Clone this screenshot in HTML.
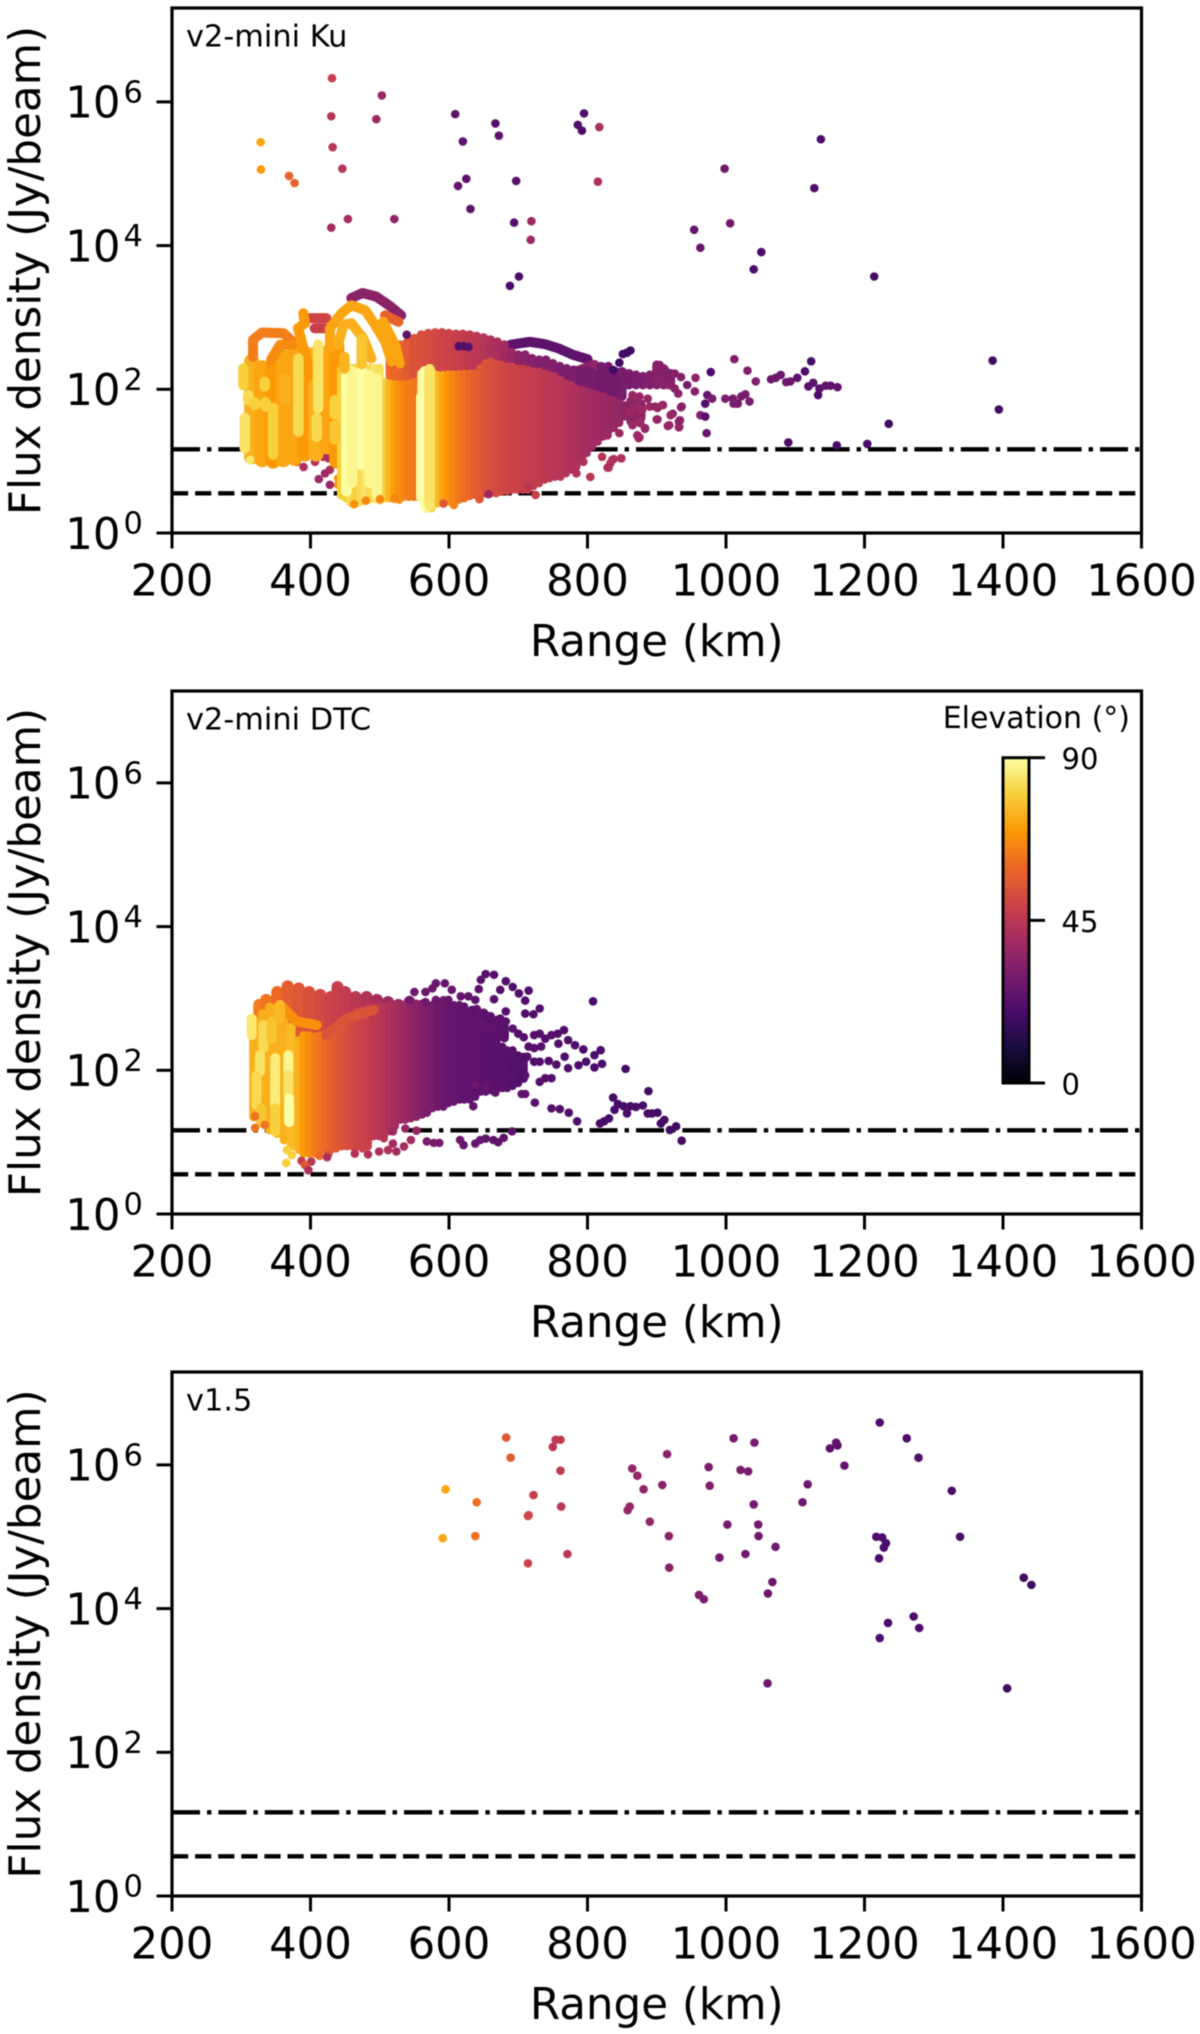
<!DOCTYPE html>
<html lang="en">
<head>
<meta charset="utf-8">
<title>Flux density vs range</title>
<style>
html,body{margin:0;padding:0;background:#fff;width:1200px;height:2034px;overflow:hidden}
svg{display:block;filter:blur(0.45px)}
text{font-family:"DejaVu Sans","Liberation Sans",sans-serif;fill:#000}
</style>
</head>
<body>
<svg id="figure" xmlns="http://www.w3.org/2000/svg" width="1200" height="2034" viewBox="0 0 1200 2034"></svg>
<script>
/* ---------- axis ticks and thresholds ---------- */
const xTickValues = [200,400,600,800,1000,1200,1400,1600];
const yTickExponents = [0,2,4,6];
const thresholdFlux = [14.6, 3.57];
const colorbarTicks = [0,45,90];
const infernoStops = ["#000004","#1b0c42","#4b0c6b","#781c6d","#a52c60","#cf4446","#ed6925","#fb9a06","#f7d03c","#fcffa4"];

/* ---------- v2-mini Ku: dense bands (range km, log10 flux high/low, elevation deg) ---------- */
const kuLeftRange = [315,330,346,361,377,392,408,423,438];
const kuLeftHigh  = [2.39,2.30,2.35,2.45,2.50,2.50,2.50,2.50,2.60];
const kuLeftLow   = [1.06,1.02,1.00,1.02,1.04,1.10,1.10,1.20,1.00];
const kuLeftElev  = [74,72,70,72,72,70,74,72,70];

const kuMidRange = [515,522,530,540,550,560,570,580,590,600,610,620,630,640,650,660,670,680,690,700,710,720,730,740,750,760,770,780,790,800,810,820,830,840,850,860,870,880,890,900,910,920];
const kuMidHigh  = [2.40,2.50,2.62,2.66,2.71,2.76,2.78,2.79,2.79,2.78,2.77,2.77,2.76,2.74,2.72,2.69,2.66,2.62,2.52,2.48,2.48,2.43,2.41,2.41,2.36,2.32,2.29,2.27,2.25,2.27,2.22,2.32,2.32,2.25,2.25,2.22,2.20,2.18,2.20,2.34,2.29,2.22];
const kuMidLow   = [1.9,1.9,1.9,1.9,1.9,1.9,1.9,1.9,1.9,1.9,1.9,1.9,1.9,1.9,1.9,1.9,1.9,1.9,1.9,1.9,1.9,1.9,1.9,1.9,1.9,1.9,1.9,1.9,1.9,1.9,1.9,1.9,1.9,1.9,1.9,2.06,2.06,2.06,2.06,2.06,2.06,2.06];
const kuMidElev  = [60,59,58,56,54,53,52,51,50,49,48,47,46,45,44,42,41,39,37,35,34,33,32,32,32,31,31,31,30,30,30,29,29,29,30,30,31,31,32,33,33,32];

const kuSecondRange = [444,451,458,465,472,479,486,493,500,507,514,521,528,535,542,549,556];
const kuSecondHigh  = [2.27,2.27,2.30,2.30,2.30,2.30,2.30,2.30,2.30,2.10,2.08,2.07,2.07,2.07,2.08,2.10,2.12];
const kuSecondLow   = [0.52,0.48,0.42,0.42,0.43,0.45,0.47,0.47,0.45,0.48,0.48,0.47,0.46,0.50,0.50,0.50,0.50];
const kuSecondElev  = [80,80,82,80,82,84,82,84,83,80,75,71,68,66,64,63,62];

const kuMainRange = [560,567,575,583,591,599,606,614,622,630,637,645,653,660,668,676,684,691,699,707,714,722,730,738,745,753,761,769,776,784,792,799,807,815,823,830,838,846,854,862,870,878];
const kuMainHigh  = [2.22,2.25,2.25,2.20,2.20,2.21,2.21,2.21,2.22,2.22,2.22,2.29,2.36,2.39,2.36,2.34,2.32,2.32,2.29,2.29,2.27,2.25,2.25,2.22,2.20,2.18,2.13,2.08,2.06,2.01,1.99,1.97,1.94,1.92,1.90,1.87,1.85,1.81,1.78,1.84,1.84,1.80];
const kuMainLow   = [0.48,0.34,0.34,0.41,0.46,0.44,0.41,0.46,0.48,0.51,0.53,0.51,0.55,0.55,0.55,0.58,0.58,0.60,0.60,0.60,0.60,0.65,0.69,0.74,0.76,0.78,0.78,0.83,0.88,0.92,1.02,1.11,1.20,1.27,1.34,1.41,1.46,1.53,1.62,1.55,1.60,1.60];
const kuMainElev  = [88,88,82,76,72,69,66,63,61,59,57,56,54,53,52,51,50,49,49,48,47.5,47,46.5,46,45,44.5,44,43,42.5,42,41,40,39.5,39,38,37.5,37,36,35,35,35,35];

const kuBrightRange = [303,310,305,334,320,335,346,363,382.5,411,409,435,435,452,460,474,485,496,449,474,565,560,572];
const kuBrightHigh  = [2.29,1.92,1.60,2.10,1.82,1.82,1.74,2.15,2.43,2.62,1.60,1.85,1.50,2.29,2.25,2.25,2.20,2.15,2.45,2.70,2.25,1.90,2.28];
const kuBrightLow   = [2.06,1.85,1.18,2.04,1.78,1.76,1.09,1.85,1.41,1.74,1.34,1.65,1.30,0.58,0.70,0.95,0.70,0.55,2.29,2.35,0.40,0.50,0.38];
const kuBrightElev  = [80,82,84,80,80,80,80,74,82,84,82,80,78,90,88,90,88,88,75,78,90,90,84];

/* ---------- v2-mini Ku: arcs traced by satellite passes ---------- */
const kuArcARange = [317,317,330,361,377];
const kuArcALog   = [2.45,2.69,2.79,2.78,2.64];
const kuArcAElev  = 64;
const kuArcBRange = [343,356,377];
const kuArcBLog   = [2.41,2.62,2.62];
const kuArcBElev  = 67;
const kuArcCRange = [389.5,392,382,392,402.5];
const kuArcCLog   = [3.06,2.92,2.85,2.50,2.18];
const kuArcCElev  = 70;
const kuArcPurpleRange = [459,475,495,516,531];
const kuArcPurpleLog   = [3.27,3.34,3.29,3.15,3.03];
const kuArcPurpleElev  = 34;
const kuArcRedRange = [399,423];
const kuArcRedLog   = [2.99,2.99];
const kuArcRedElev  = 50;
const kuArcRed2Range = [406,421];
const kuArcRed2Log   = [2.85,2.85];
const kuArcRed2Elev  = 48;
const kuArcOrangeRange = [507.6,527];
const kuArcOrangeLog   = [3.03,2.94];
const kuArcOrangeElev  = 58;
const kuArcDRange = [428,428,445,459,479,493,508,517];
const kuArcDLog   = [2.57,2.85,3.06,3.17,3.10,2.90,2.66,2.39];
const kuArcDElev  = 72;
const kuArcERange = [440,447.5,459,476,488];
const kuArcELog   = [2.62,2.90,2.92,2.71,2.43];
const kuArcEElev  = 74;
const kuArcFRange = [500,505,522,529];
const kuArcFLog   = [2.85,2.94,2.62,2.36];
const kuArcFElev  = 72;
const kuArcDarkRange = [689,702,717,738,758,779,800];
const kuArcDarkLog   = [2.62,2.64,2.66,2.63,2.57,2.48,2.42];
const kuArcDarkElev  = 24;
const kuArcMidRange = [784,810];
const kuArcMidLog   = [2.25,2.34];
const kuArcMidElev  = 35;

/* ---------- v2-mini Ku: points sitting behind the bright columns ---------- */
const kuBackDotRange = [390,380,406.5,418.5,430.6,399,428,412,428,421,411,426,339,351,368,440,440];
const kuBackDotLog   = [0.92,0.99,0.99,1.06,1.18,1.18,0.88,0.75,0.67,0.83,1.09,1.04,1.02,1.02,1.04,0.76,0.67];
const kuBackDotElev  = [42,44,44,42,46,46,42,38,38,38,42,42,66,66,66,68,68];

/* ---------- v2-mini Ku: individual points ---------- */
const kuDotRange = [431,430,432,446,503,495,609,620,667,672,786,795,792,817,815,328,328.5,369,377,430,454,521,625,613,631,697,694,719,718,688,701,1137,1127.5,998,1006,954,963,1051,1040,1214,
1385,1394,1235,1204,1160,1090,1123,1114,1103,1079,1072,1065,1093,1087,1043,1031,1012,1126,1119,1133,1135,1144,1151,1161,978,956,944,955,973,980,970,999,1010,1011,1017,1022,1028,1034,935,963,970,972,932,932,916,901,883,872,875,849,838,833,829,821,862,857,851,846,837,
463,480,500.4,521,571,592,607,644,657,725,714,804,784,848.5,836,830.4,794,874,883,872,876,918,932.5,933.5,900,923,908,898,936,
865,875,887,909,920,890,873,862,879,901,876,865,846,829,904,912,926,935,906,917,931,926,539,614,621,628,313];
const kuDotLog = [6.33,5.80,5.37,5.07,6.09,5.76,5.83,5.45,5.70,5.53,5.68,5.84,5.60,5.65,4.89,5.44,5.06,4.97,4.87,4.25,4.37,4.37,4.93,4.83,4.51,4.90,4.32,4.34,4.08,3.44,3.57,5.48,4.80,5.07,4.31,4.22,3.97,3.91,3.67,3.57,
2.40,1.72,1.52,1.24,1.22,1.26,2.39,2.25,2.16,2.20,2.16,2.14,2.11,2.10,2.11,2.26,2.42,2.09,2.04,1.92,2.01,2.05,2.05,2.03,2.24,2.16,2.06,1.97,1.92,1.87,1.80,1.87,1.87,1.80,1.80,1.90,1.93,1.83,1.75,1.64,1.62,1.39,1.55,1.47,1.49,1.58,1.45,1.36,1.33,1.04,1.03,0.97,0.91,1.06,2.54,2.51,2.49,2.37,2.27,
0.40,0.45,0.47,0.48,0.37,0.41,0.39,0.47,0.54,0.53,0.65,0.78,0.83,1.04,1.02,0.91,0.99,1.32,1.46,1.36,1.53,1.50,1.48,1.57,1.58,1.66,1.78,1.76,1.76,
1.92,1.90,1.87,1.78,1.64,1.76,1.76,1.69,1.71,1.74,1.55,1.50,1.39,1.36,2.34,2.27,2.22,2.17,2.13,2.06,1.94,2.01,2.76,2.60,2.60,2.59,1.02];
const kuDotElev = [48,44,44,44,38,38,24,24,22,24,21,21,21,42,42,72,70,58,58,40,40,35,24,26,24,23,22,38,38,20,20,20,21,28,29,26,26,20,20,18,
18,18,18,19,20,20,19,20,23,27,27,27,27,27,32,32,32,23,23,20,23,25,25,25,20,34,30,33,25,30,21,30,30,30,30,30,30,30,36,32,22,26,37,37,37,37,39,40,40,44,44,44,44,44,18,18,18,18,18,
68,66,66,66,85,55,65,55,38,48,45,45,43,42,42,42,42,38,36,38,36,36,36,34,36,33,36,36,33,
37,37,37,37,37,37,38,38,38,37,38,38,38,38,33,33,33,33,34,34,34,34,24,22,22,22,85];

/* ---------- v2-mini DTC: dense bands ---------- */
const dtcRimRange = [326,336,352,367,383,398,414,429,439,450,465,481,496,512,527,543];
const dtcRimHigh  = [2.91,2.98,3.09,3.17,3.14,3.09,3.05,3.02,3.16,3.09,3.02,3.02,2.98,2.95,2.91,2.95];
const dtcRimLow   = [2.28,2.28,2.28,2.28,2.28,2.28,2.28,2.28,2.28,2.28,2.28,2.28,2.28,2.28,2.28,2.28];
const dtcRimElev  = [64,62,60,57,55,53,51,49,48,47,45,43,41,38,36,34];

const dtcArmRange = [640,650,660,670,680];
const dtcArmHigh  = [2.85,2.80,2.75,2.70,2.60];
const dtcArmLow   = [2.45,2.45,2.45,2.45,2.45];
const dtcArmElev  = [25,25,24,24,23];

const dtcBackRange = [318,331,341,352,362,372];
const dtcBackHigh  = [2.70,2.79,2.88,2.88,2.79,2.60];
const dtcBackLow   = [1.35,1.26,1.17,1.12,1.03,0.98];
const dtcBackElev  = [74,74,74,74,74,76];

const dtcMainRange = [375,383,390,398,406,414,421,429,437,445,452,460,468,475,483,491,499,506,514,522,530,537,545,553,561,568,576,584,592,599,607,615,622,630,638,646,653,661,669,677,684,692,700,708];
const dtcMainHigh  = [2.28,2.42,2.49,2.49,2.47,2.49,2.51,2.56,2.61,2.65,2.70,2.77,2.82,2.84,2.86,2.88,2.89,2.89,2.91,2.91,2.91,2.91,2.91,2.93,2.93,2.91,2.91,2.93,2.98,2.89,2.91,2.91,2.89,2.79,2.61,2.51,2.47,2.44,2.37,2.33,2.28,2.28,2.21,2.19];
const dtcMainLow   = [0.94,0.89,0.84,0.84,0.84,0.89,0.89,0.89,0.91,0.94,0.94,0.94,0.94,0.91,0.94,1.08,1.08,1.05,1.15,1.22,1.31,1.31,1.33,1.35,1.38,1.45,1.47,1.49,1.49,1.54,1.56,1.59,1.59,1.59,1.63,1.70,1.70,1.72,1.75,1.75,1.75,1.78,1.82,1.88];
const dtcMainElev  = [76,74,70,67,64,62,60,58,56,54,53,51,50,49,48,46,45,44,42,41,39,38,36,34,33,32,30,28,27,26,25.5,25,24.5,24.5,24,24,23.5,23.5,23,23,23,22.5,22,21.5];

const dtcCurveRange = [356,380,409];
const dtcCurveLog   = [2.91,2.68,2.63];
const dtcCurveElev  = 68;
const dtcRidgeRange = [423,452,491];
const dtcRidgeLog   = [2.49,2.72,2.84];
const dtcRidgeElev  = 54;

const dtcBrightRange = [315,332,344,356,327,322,329,349,349,368,368,369];
const dtcBrightHigh  = [2.72,2.63,2.68,2.91,2.21,1.93,1.47,2.17,1.47,2.21,1.93,1.61];
const dtcBrightLow   = [2.49,2.31,2.44,2.72,1.98,1.51,1.29,1.47,1.15,1.98,1.66,1.28];
const dtcBrightElev  = [85,82,78,76,84,82,78,86,80,88,84,90];

/* ---------- v2-mini DTC: individual points ---------- */
const dtcDotRange = [808,855,888,837,844,852,862,870,880,839,857,887,893,901,911,906,928,919,936,831,824,818,785,773,760,748,724,710,705,819,810,821,810,798,787,772,767,755,744,731,723,758,772,782,794,766,757,748,739,731,723,733,723,715,731,722,710,710,701,715,692,682,674,665,653,646,643,665,682,674,682,692,700,708,669,748,739,731,713,710,692,604,594,581,576,566,550,543,566,581,617,628,638,599,633,653,661,691,679,671,664,653,645,638,621,616,586,578,568,568,635,667,653,638,682,692,705,
365,373,366,387,401,392,397,413,426,424,320,320,334,464,483,499,512,524,535,545,519,519,537,553];
const dtcDotLog = [2.96,2.02,1.71,1.62,1.53,1.50,1.50,1.49,1.51,1.45,1.40,1.40,1.40,1.41,1.31,1.26,1.22,1.17,1.02,1.33,1.29,1.26,1.29,1.41,1.46,1.47,1.55,1.67,1.67,2.28,2.21,2.09,2.04,2.12,2.07,2.03,2.19,2.08,2.13,2.12,2.12,2.37,2.42,2.35,2.29,2.56,2.51,2.49,2.44,2.51,2.49,2.33,2.31,2.33,2.86,2.78,2.79,2.97,3.07,3.11,3.16,3.24,3.12,3.33,3.34,3.26,3.13,2.99,2.82,2.72,2.68,2.58,2.51,2.46,2.54,1.89,1.89,1.84,2.19,1.93,1.91,3.12,3.21,3.21,3.14,3.09,3.09,2.98,2.95,2.98,3.03,3.03,2.98,2.98,2.84,2.77,2.72,1.15,1.06,1.00,1.03,1.05,1.03,0.98,0.96,1.03,0.99,0.99,1.01,1.41,1.50,1.69,1.77,1.80,2.10,2.24,2.10,
0.71,0.82,0.89,0.74,0.73,0.68,0.61,0.81,0.84,0.79,1.20,1.36,1.24,0.84,0.83,0.87,0.89,0.87,0.94,1.03,0.98,1.15,1.19,1.16];
const dtcDotElev = [20,18,18,19,19,19,19,19,19,19,19,19,19,19,19,19,18,18,18,19,19,19,21,21,22,22,23,25,25,20,20,20,20,20,20,21,21,21,21,21,21,21,21,21,20,21,22,22,22,22,22,22,22,22,21,21,21,21,22,22,22,22,22,22,22,23,23,23,22,23,23,23,22,22,23,22,22,22,22,22,23,26,26,26,27,27,28,29,28,27,25,25,24,26,24,23,23,24,25,25,25,25,26,26,26,27,30,30,30,30,26,25,26,27,23,23,23,
80,80,80,48,45,55,42,60,55,42,62,62,62,43,43,42,42,40,40,40,40,38,36,36];

/* ---------- v1.5: individual points ---------- */
const v15DotRange = [682.5,689,754,761,750,761,722,762,715,714,714,771,595,591,640,638,915,864.5,872,881,908,861,858,890,917.5,918,1011,1041,975,1021,1032,976.5,1040,1002,1046.5,1047,990.5,1028,1071.5,1067,1060.5,961,968,1060,1118,1110.5,1159,1161,1150,1171,1222,1261,1278,1326,1338,1217,1225.5,1231,1228,1221,1430,1441,1271,1279,1234,1222,1406];
const v15DotLog = [6.38,6.10,6.35,6.35,6.25,5.92,5.58,5.42,5.30,5.29,4.63,4.76,5.66,4.98,5.48,5.01,6.15,5.95,5.85,5.66,5.72,5.42,5.37,5.21,5.01,4.57,6.37,6.31,5.97,5.93,5.91,5.71,5.45,5.17,5.17,5.01,4.71,4.76,4.86,4.37,4.21,4.19,4.13,2.96,5.73,5.48,6.31,6.27,6.23,5.99,6.59,6.37,6.10,5.64,5.00,5.00,4.99,4.91,4.85,4.70,4.43,4.33,3.89,3.73,3.80,3.59,2.89];
const v15DotElev = [55,56,46,46,45,46,48,45,50,50,49,45,72,72,61,62,33,36,36,35,34,36,36,36,34,34,30,30,31,30,30,32,29,29,29,28,28,28,28,27,27,31,31,27,27,27,24,24,24,25,20,20,21,20,18,20,20,20,20,20,17,17,20,20,20,20,17];

/* ---------- layout ---------- */
const SVGNS = "http://www.w3.org/2000/svg";
const figure = document.getElementById("figure");
const plotLeft = 172, plotRight = 1141.5;
const pxPerKm = (plotRight - plotLeft) / 1400;
const pxPerDecade = 71.85;
const xAxis = r => plotLeft + (r - 200) * pxPerKm;
const makeYAxis = bottom => logFlux => bottom - logFlux * pxPerDecade;

function addNode(parent, tag, attrs){
  const node = document.createElementNS(SVGNS, tag);
  for (const key in attrs) node.setAttribute(key, attrs[key]);
  parent.appendChild(node);
  return node;
}
function inferno(elev){
  const t = Math.max(0, Math.min(9, elev / 10));
  const i = Math.min(8, Math.floor(t));
  const f = t - i;
  const a = infernoStops[i], b = infernoStops[i + 1];
  const mix = s => {
    const pa = parseInt(a.substr(s, 2), 16), pb = parseInt(b.substr(s, 2), 16);
    return Math.round(pa + (pb - pa) * f);
  };
  return "rgb(" + mix(1) + "," + mix(3) + "," + mix(5) + ")";
}
function drawBands(parent, yAxis, ranges, highs, lows, elevs, width){
  ranges.forEach((r, i) => {
    const band = addNode(parent, "line", {
      x1: xAxis(r), x2: xAxis(r), y1: yAxis(highs[i]), y2: yAxis(lows[i]),
      stroke: inferno(elevs[i]), "stroke-width": width, "stroke-linecap": "round"
    });
    
    
  });
}
function drawArc(parent, yAxis, ranges, logs, elev){
  const pts = ranges.map((r, i) => xAxis(r) + "," + yAxis(logs[i])).join(" ");
  const arc = addNode(parent, "polyline", {
    points: pts, fill: "none", stroke: inferno(elev), "stroke-width": 10,
    "stroke-linecap": "round", "stroke-linejoin": "round"
  });
  
  
}
function drawDots(parent, yAxis, ranges, logs, elevs){
  ranges.forEach((r, i) => {
    const dot = addNode(parent, "circle", {
      cx: xAxis(r), cy: yAxis(logs[i]), r: 4.3, fill: inferno(elevs[i])
    });
    
    
  });
}
function drawThresholds(parent, yAxis){
  const patterns = ["28 7 4.4 7", "16.2 6.9"];
  thresholdFlux.forEach((flux, i) => {
    const y = yAxis(Math.log10(flux));
    const rule = addNode(parent, "line", {
      x1: plotLeft, x2: plotRight, y1: y, y2: y, stroke: "#000",
      "stroke-width": 4.4, "stroke-dasharray": patterns[i]
    });
    
    
  });
}
function drawAxes(parent, top, bottom, yAxis){
  const frame = addNode(parent, "rect", {
    x: plotLeft, y: top, width: plotRight - plotLeft, height: bottom - top,
    fill: "none", stroke: "#000", "stroke-width": 3.2
  });
  
  

  xTickValues.forEach(v => {
    const x = xAxis(v);
    const tick = addNode(parent, "line", {x1: x, x2: x, y1: bottom, y2: bottom + 15.5, stroke: "#000", "stroke-width": 3});
    
    
    const label = addNode(parent, "text", {x: x, y: bottom + 62.5, "text-anchor": "middle", "font-size": 43.4});
    label.textContent = String(v);
    
    
  });
  yTickExponents.forEach(exp => {
    const y = yAxis(exp);
    const tick = addNode(parent, "line", {x1: plotLeft - 15.5, x2: plotLeft, y1: y, y2: y, stroke: "#000", "stroke-width": 3});
    
    
    const base = addNode(parent, "text", {x: 120.5, y: y + 15.8, "text-anchor": "end", "font-size": 43.4});
    base.textContent = "10";
    
    
    const sup = addNode(parent, "text", {x: 123.5, y: y + 0.5, "font-size": 30.4});
    sup.textContent = String(exp);
    
    
  });
  const xTitle = addNode(parent, "text", {x: (plotLeft + plotRight) / 2, y: bottom + 123, "text-anchor": "middle", "font-size": 43.6});
  xTitle.textContent = "Range (km)";
  
  
  const cy = (top + bottom) / 2;
  const yTitle = addNode(parent, "text", {x: 40, y: cy, "text-anchor": "middle", "font-size": 43.6, transform: "rotate(-90 40 " + cy + ")"});
  yTitle.textContent = "Flux density (Jy/beam)";
  
  
}
function drawPanelLabel(parent, top, text){
  const label = addNode(parent, "text", {x: 186, y: top + 38.7, "font-size": 30.4});
  label.textContent = text;
  
  
}

/* ---------- panel 1: v2-mini Ku ---------- */
(function(){
  const top = 8, bottom = 533, yAxis = makeYAxis(bottom);
  const g = addNode(figure, "g", {});
  
  
  drawThresholds(g, yAxis);
  drawArc(g, yAxis, kuArcPurpleRange, kuArcPurpleLog, kuArcPurpleElev);
  drawArc(g, yAxis, kuArcRedRange, kuArcRedLog, kuArcRedElev);
  drawArc(g, yAxis, kuArcRed2Range, kuArcRed2Log, kuArcRed2Elev);
  drawArc(g, yAxis, kuArcOrangeRange, kuArcOrangeLog, kuArcOrangeElev);
  drawArc(g, yAxis, kuArcDarkRange, kuArcDarkLog, kuArcDarkElev);
  drawArc(g, yAxis, kuArcMidRange, kuArcMidLog, kuArcMidElev);
  drawBands(g, yAxis, kuMidRange, kuMidHigh, kuMidLow, kuMidElev, 9);
  drawDots(g, yAxis, kuBackDotRange, kuBackDotLog, kuBackDotElev);
  drawBands(g, yAxis, kuLeftRange, kuLeftHigh, kuLeftLow, kuLeftElev, 15);
  drawArc(g, yAxis, kuArcARange, kuArcALog, kuArcAElev);
  drawArc(g, yAxis, kuArcBRange, kuArcBLog, kuArcBElev);
  drawArc(g, yAxis, kuArcCRange, kuArcCLog, kuArcCElev);
  drawArc(g, yAxis, kuArcDRange, kuArcDLog, kuArcDElev);
  drawArc(g, yAxis, kuArcERange, kuArcELog, kuArcEElev);
  drawArc(g, yAxis, kuArcFRange, kuArcFLog, kuArcFElev);
  drawBands(g, yAxis, kuSecondRange, kuSecondHigh, kuSecondLow, kuSecondElev, 8);
  drawBands(g, yAxis, kuMainRange, kuMainHigh, kuMainLow, kuMainElev, 8);
  drawBands(g, yAxis, kuBrightRange, kuBrightHigh, kuBrightLow, kuBrightElev, 10.5);
  drawDots(g, yAxis, kuDotRange, kuDotLog, kuDotElev);
  drawAxes(g, top, bottom, yAxis);
  drawPanelLabel(g, top, "v2-mini Ku");
})();

/* ---------- panel 2: v2-mini DTC ---------- */
(function(){
  const top = 691, bottom = 1214, yAxis = makeYAxis(bottom);
  const g = addNode(figure, "g", {});
  
  
  drawThresholds(g, yAxis);
  drawBands(g, yAxis, dtcRimRange, dtcRimHigh, dtcRimLow, dtcRimElev, 12);
  drawBands(g, yAxis, dtcArmRange, dtcArmHigh, dtcArmLow, dtcArmElev, 9);
  drawBands(g, yAxis, dtcBackRange, dtcBackHigh, dtcBackLow, dtcBackElev, 9);
  drawBands(g, yAxis, dtcMainRange, dtcMainHigh, dtcMainLow, dtcMainElev, 8);
  drawArc(g, yAxis, dtcCurveRange, dtcCurveLog, dtcCurveElev);
  drawArc(g, yAxis, dtcRidgeRange, dtcRidgeLog, dtcRidgeElev);
  drawBands(g, yAxis, dtcBrightRange, dtcBrightHigh, dtcBrightLow, dtcBrightElev, 10);
  drawDots(g, yAxis, dtcDotRange, dtcDotLog, dtcDotElev);
  drawAxes(g, top, bottom, yAxis);
  drawPanelLabel(g, top, "v2-mini DTC");

  /* colour bar */
  const barX = 1003, barW = 26, barTop = 757.7, barBottom = 1083;
  const defs = addNode(g, "defs", {});
  const grad = addNode(defs, "linearGradient", {id: "infernoGrad", x1: 0, y1: 1, x2: 0, y2: 0});
  infernoStops.forEach((c, i) => {
    addNode(grad, "stop", {offset: i / (infernoStops.length - 1), "stop-color": c});
  });
  const bar = addNode(g, "rect", {x: barX, y: barTop, width: barW, height: barBottom - barTop, fill: "url(#infernoGrad)", stroke: "#000", "stroke-width": 3});
  
  
  const barScale = v => barBottom - (v / 90) * (barBottom - barTop);
  colorbarTicks.forEach(v => {
    const y = barScale(v);
    const tick = addNode(g, "line", {x1: barX + barW, x2: barX + barW + 16, y1: y, y2: y, stroke: "#000", "stroke-width": 3});
    
    
    const label = addNode(g, "text", {x: 1061.5, y: y + 11.5, "font-size": 29});
    label.textContent = String(v);
    
    
  });
  const cbTitle = addNode(g, "text", {x: 1130, y: 728, "text-anchor": "end", "font-size": 30});
  cbTitle.textContent = "Elevation (°)";
  
  
})();

/* ---------- panel 3: v1.5 ---------- */
(function(){
  const top = 1372, bottom = 1896, yAxis = makeYAxis(bottom);
  const g = addNode(figure, "g", {});
  
  
  drawThresholds(g, yAxis);
  drawDots(g, yAxis, v15DotRange, v15DotLog, v15DotElev);
  drawAxes(g, top, bottom, yAxis);
  drawPanelLabel(g, top, "v1.5");
})();
</script>
</body>
</html>
